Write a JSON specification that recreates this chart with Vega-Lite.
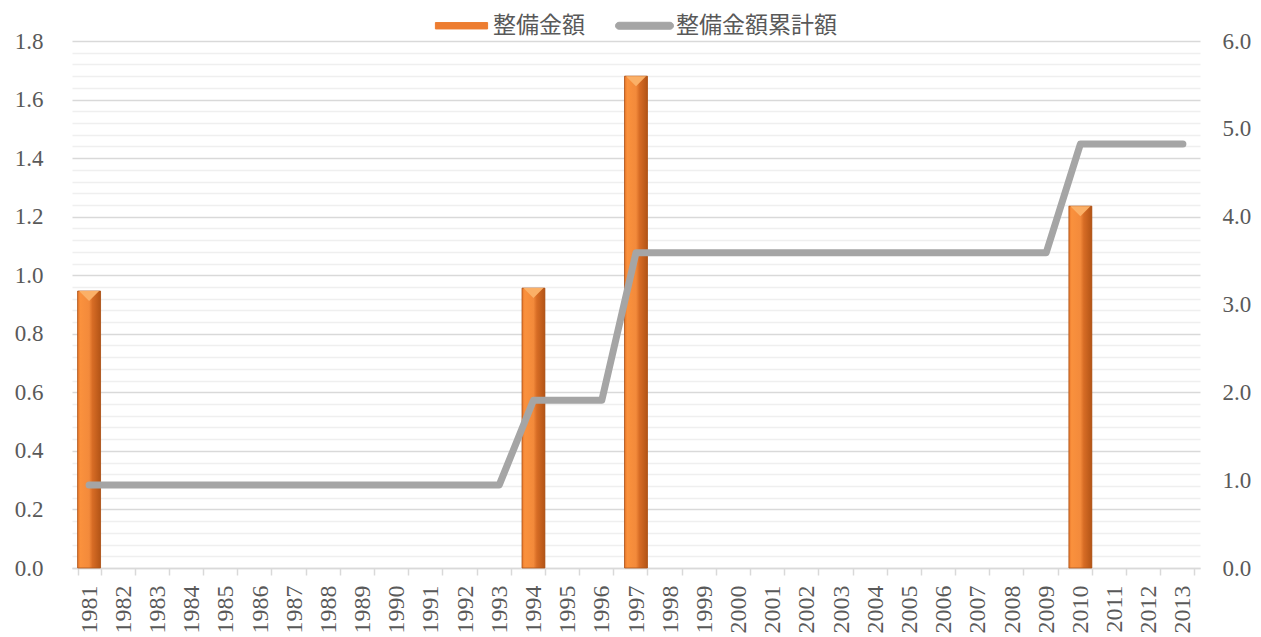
{
  "$schema": "https://vega.github.io/schema/vega-lite/v6.json",
  "autosize": {"type": "none"},
  "padding": {"left": 72, "top": 41, "right": 61, "bottom": 69},
  "width": 1128,
  "height": 527,
  "background": "white",
  "data": {"values": [
    {"year": "1981", "amount": 0.946, "cum": 0.946},
    {"year": "1982", "amount": null, "cum": 0.946},
    {"year": "1983", "amount": null, "cum": 0.946},
    {"year": "1984", "amount": null, "cum": 0.946},
    {"year": "1985", "amount": null, "cum": 0.946},
    {"year": "1986", "amount": null, "cum": 0.946},
    {"year": "1987", "amount": null, "cum": 0.946},
    {"year": "1988", "amount": null, "cum": 0.946},
    {"year": "1989", "amount": null, "cum": 0.946},
    {"year": "1990", "amount": null, "cum": 0.946},
    {"year": "1991", "amount": null, "cum": 0.946},
    {"year": "1992", "amount": null, "cum": 0.946},
    {"year": "1993", "amount": null, "cum": 0.946},
    {"year": "1994", "amount": 0.956, "cum": 1.91},
    {"year": "1995", "amount": null, "cum": 1.91},
    {"year": "1996", "amount": null, "cum": 1.91},
    {"year": "1997", "amount": 1.68, "cum": 3.59},
    {"year": "1998", "amount": null, "cum": 3.59},
    {"year": "1999", "amount": null, "cum": 3.59},
    {"year": "2000", "amount": null, "cum": 3.59},
    {"year": "2001", "amount": null, "cum": 3.59},
    {"year": "2002", "amount": null, "cum": 3.59},
    {"year": "2003", "amount": null, "cum": 3.59},
    {"year": "2004", "amount": null, "cum": 3.59},
    {"year": "2005", "amount": null, "cum": 3.59},
    {"year": "2006", "amount": null, "cum": 3.59},
    {"year": "2007", "amount": null, "cum": 3.59},
    {"year": "2008", "amount": null, "cum": 3.59},
    {"year": "2009", "amount": null, "cum": 3.59},
    {"year": "2010", "amount": 1.236, "cum": 4.826},
    {"year": "2011", "amount": null, "cum": 4.826},
    {"year": "2012", "amount": null, "cum": 4.826},
    {"year": "2013", "amount": null, "cum": 4.826}
  ]},
  "encoding": {
    "x": {
      "field": "year", "type": "ordinal", "title": null,
      "scale": {"paddingInner": 0.33, "paddingOuter": 0.165},
      "axis": {
        "labelAngle": 270, "labelAlign": "right", "labelBaseline": "middle",
        "labelFont": "Liberation Serif", "labelFontSize": 24, "labelColor": "#595959",
        "labelPadding": 10, "tickBand": "extent", "tickSize": 7, "tickColor": "#D9D9D9", "tickWidth": 1.5,
        "domainColor": "#D9D9D9", "domainWidth": 1.5, "grid": false
      }
    }
  },
  "layer": [
    {
      "encoding": {
        "y": {"field": "amount", "type": "quantitative", "title": null,
          "scale": {"domain": [0, 1.8], "nice": false},
          "axis": {
            "orient": "left",
            "values": [0,0.04,0.08,0.12,0.16,0.2,0.24,0.28,0.32,0.36,0.4,0.44,0.48,0.52,0.56,0.6,0.64,0.68,0.72,0.76,0.8,0.84,0.88,0.92,0.96,1,1.04,1.08,1.12,1.16,1.2,1.24,1.28,1.32,1.36,1.4,1.44,1.48,1.52,1.56,1.6,1.64,1.68,1.72,1.76,1.8],
            "labelExpr": "abs(datum.value*5 - round(datum.value*5)) < 0.001 ? format(datum.value, '.1f') : ''",
            "labelOverlap": false,
            "labelFont": "Liberation Serif", "labelFontSize": 23, "labelColor": "#595959",
            "labelPadding": 29, "ticks": false, "domain": false,
            "grid": true, "gridWidth": 1.5,
            "gridColor": {"condition": {"test": "abs(datum.value*5 - round(datum.value*5)) < 0.001", "value": "#D9D9D9"}, "value": "#EFEFEF"}
          }
        }
      },
      "layer": [
        {
          "mark": {"type": "bar"},
          "encoding": {
            "color": {"datum": "整備金額", "type": "nominal",
              "scale": {"domain": ["整備金額", "整備金額累計額"], "range": ["#ED7D31", "#A5A5A5"]},
              "legend": {
                "title": null, "orient": "none", "direction": "horizontal",
                "legendX": 360, "legendY": -45,
                "labelFont": "Noto Sans CJK JP", "labelFontSize": 23, "labelColor": "#595959", "labelLimit": 400,
                "symbolSize": 3364, "labelOffset": 2, "columnPadding": 28,
                "encode": {
                  "symbols": {"update": {
                    "shape": {"signal": "datum.value === '整備金額' ? 'M-0.9,-0.11H0.9V0.11H-0.9Z' : 'M-0.88,-0.12H0.88A0.12,0.12 0 0 1 0.88,0.12H-0.88A0.12,0.12 0 0 1 -0.88,-0.12Z'"},
                    "fill": {"signal": "datum.value === '整備金額' ? '#EC7C30' : '#A5A5A5'"},
                    "stroke": {"signal": "datum.value === '整備金額' ? '#9C4A14' : '#A5A5A5'"},
                    "strokeWidth": {"value": 1},
                    "opacity": {"value": 1},
                    "fillOpacity": {"value": 1}
                  }}
                }
              }
            }
          }
        },
        {
          "mark": {"type": "bar", "stroke": "#A9531A", "strokeWidth": 0.8,
            "fill": {"gradient": "linear", "x1": 0, "y1": 0, "x2": 1, "y2": 0,
              "stops": [
                {"offset": 0, "color": "#E9772A"},
                {"offset": 0.12, "color": "#FA913D"},
                {"offset": 0.5, "color": "#F38A3B"},
                {"offset": 0.65, "color": "#D76C25"},
                {"offset": 1, "color": "#B35416"}
              ]}}
        },
        {
          "mark": {"type": "point", "filled": true, "shape": "M-1,0L1,0L0,1Z", "size": 400, "color": "#FBB067", "opacity": 1, "strokeWidth": 0}
        }
      ]
    },
    {
      "mark": {"type": "line", "strokeWidth": 7, "strokeCap": "round", "strokeJoin": "round"},
      "encoding": {
        "y": {"field": "cum", "type": "quantitative", "title": null,
          "scale": {"domain": [0, 6], "nice": false},
          "axis": {"orient": "right", "values": [0,1,2,3,4,5,6], "format": ".1f",
            "labelFont": "Liberation Serif", "labelFontSize": 23, "labelColor": "#595959",
            "labelPadding": 22, "ticks": false, "domain": false, "grid": false}
        },
        "color": {"datum": "整備金額累計額", "type": "nominal"}
      }
    }
  ],
  "resolve": {"scale": {"y": "independent"}},
  "config": {"view": {"stroke": null}}
}
